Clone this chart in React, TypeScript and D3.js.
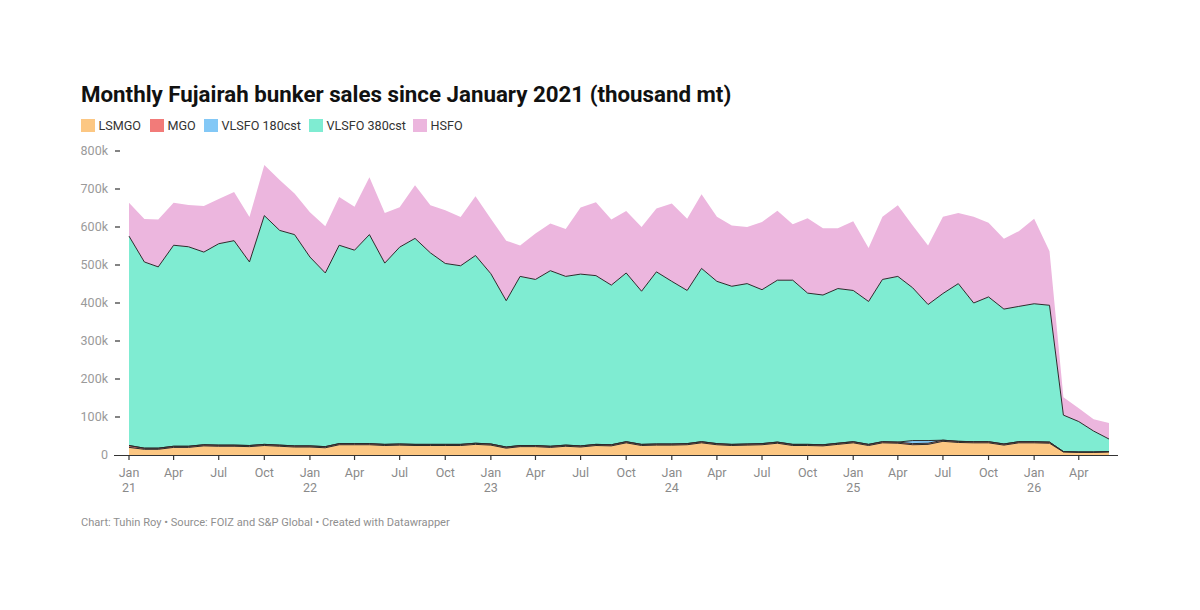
import { useEffect, useRef } from "react";
import * as d3 from "d3";

// Monthly values, thousand mt, Jan 2021 .. Jun 2026
const startMonth = new Date(2021, 0, 1);
const seriesKeys = ["LSMGO", "MGO", "VLSFO 180cst", "VLSFO 380cst", "HSFO"];
const seriesColors = ["#fcc783", "#f27b79", "#83c8f6", "#7fecd2", "#ecb6de"];

const lsmgo = [
  20, 15, 15, 20, 20, 24, 23, 23, 22, 25, 23, 21,
  21, 19, 27, 27, 27, 25, 26, 25, 25, 25, 25, 28,
  26, 18, 22, 22, 20, 23, 21, 25, 24, 32, 25, 26,
  26, 27, 32, 27, 25, 26, 27, 31, 25, 25, 24, 28,
  32, 25, 32, 31, 27, 28, 36, 33, 32, 32, 26, 32,
  32, 31, 8, 7, 7, 8,
];
const mgo = [
  5, 3, 3, 3, 3, 3, 3, 3, 3, 3, 3, 3,
  3, 3, 3, 3, 3, 3, 3, 3, 3, 3, 3, 3,
  3, 3, 3, 3, 3, 3, 3, 3, 3, 3, 3, 3,
  3, 3, 3, 3, 3, 3, 3, 3, 3, 3, 3, 3,
  3, 3, 3, 3, 3, 3, 3, 3, 3, 3, 3, 3,
  3, 3, 1, 1, 1, 1,
];
const vlsfo180 = [
  0, 0, 0, 0, 0, 0, 0, 0, 0, 0, 0, 0,
  0, 0, 0, 0, 0, 0, 0, 0, 0, 0, 0, 0,
  0, 0, 0, 0, 0, 0, 0, 0, 0, 0, 0, 0,
  0, 0, 0, 0, 0, 0, 0, 0, 0, 0, 0, 0,
  0, 0, 0, 0, 8, 7, 0, 0, 0, 0, 0, 0,
  0, 0, 0, 0, 0, 0,
];
const vlsfo380 = [
  551, 490, 477, 529, 525, 507, 530, 538, 483, 602, 565, 556,
  497, 457, 522, 509, 550, 477, 518, 542, 504, 476, 470, 494,
  448, 385, 445, 437, 462, 444, 452, 444, 420, 444, 403, 453,
  428, 403, 456, 427, 416, 422, 405, 426, 432, 398, 394, 407,
  398, 376, 427, 436, 402, 358, 386, 415, 365, 381, 355, 356,
  363, 360, 96, 80, 55, 33,
];
const hsfo = [
  88, 113, 125, 112, 110, 121, 118, 128, 118, 133, 133, 108,
  118, 123, 127, 114, 151, 132, 105, 140, 125, 140, 128, 156,
  145, 158, 81, 121, 124, 125, 175, 193, 173, 163, 169, 167,
  205, 189, 195, 170, 160, 149, 178, 183, 147, 197, 176, 159,
  182, 141, 165, 187, 164, 155, 202, 186, 227, 195, 185, 198,
  224, 142, 47, 35, 31, 42,
];

const yTicks = [0, 100, 200, 300, 400, 500, 600, 700, 800];
const monthNames = ["Jan", "Feb", "Mar", "Apr", "May", "Jun", "Jul", "Aug", "Sep", "Oct", "Nov", "Dec"];

const FONT = "Roboto, 'Noto Sans', sans-serif";

export default function App() {
  const svgRef = useRef<SVGSVGElement>(null);

  useEffect(() => {
    if (!svgRef.current) return;
    const svg = d3.select(svgRef.current);
    svg.selectAll("*").remove();

    const columns = [lsmgo, mgo, vlsfo180, vlsfo380, hsfo];
    const rows = lsmgo.map((_, i) => {
      const row: Record<string, any> = { date: d3.timeMonth.offset(startMonth, i) };
      seriesKeys.forEach((k, j) => (row[k] = columns[j][i]));
      return row;
    });
    const lastDate = rows[rows.length - 1].date as Date;

    const x = d3.scaleTime().domain([startMonth, lastDate]).range([129, 1109]);
    const y = d3.scaleLinear().domain([0, 800]).range([455, 151]);

    const stacked = d3.stack<Record<string, any>>().keys(seriesKeys)(rows);

    const area = d3
      .area<d3.SeriesPoint<Record<string, any>>>()
      .x((d) => x(d.data.date))
      .y0((d) => y(d[0]))
      .y1((d) => y(d[1]));
    const topLine = d3
      .line<d3.SeriesPoint<Record<string, any>>>()
      .x((d) => x(d.data.date))
      .y((d) => y(d[1]));

    // Title
    svg.append("text")
      .attr("x", 81)
      .attr("y", 102)
      .style("font-family", FONT)
      .style("font-size", "22.3px")
      .style("font-weight", "700")
      .attr("fill", "#111")
      .text("Monthly Fujairah bunker sales since January 2021 (thousand mt)");

    // Legend
    const legendX = [81, 150, 204, 309, 413];
    seriesKeys.forEach((k, i) => {
      const g = svg.append("g").attr("transform", `translate(${legendX[i]},119)`);
      g.append("rect").attr("width", 14).attr("height", 13).attr("fill", seriesColors[i]);
      g.append("text")
        .attr("x", 17.5)
        .attr("y", 11)
        .style("font-family", FONT)
        .style("font-size", "12.6px")
        .attr("fill", "#333")
        .text(k);
    });

    // Areas
    const plot = svg.append("g");
    stacked.forEach((s, i) => {
      plot.append("path").attr("d", area(s) as string).attr("fill", seriesColors[i]);
    });
    stacked.forEach((s, i) => {
      if (i === stacked.length - 1) return;
      plot.append("path")
        .attr("d", topLine(s) as string)
        .attr("fill", "none")
        .attr("stroke", "#2b2b2b")
        .attr("stroke-width", 1)
        .attr("stroke-linejoin", "round");
    });

    // Y axis labels and ticks
    yTicks.forEach((t) => {
      svg.append("text")
        .attr("x", 108)
        .attr("y", y(t))
        .attr("dy", "0.35em")
        .attr("text-anchor", "end")
        .style("font-family", FONT)
        .style("font-size", "12.5px")
        .attr("fill", "#9a9a9a")
        .text(t === 0 ? "0" : `${t}k`);
      if (t > 0) {
        svg.append("line")
          .attr("x1", 115).attr("x2", 120)
          .attr("y1", y(t)).attr("y2", y(t))
          .attr("stroke", "#333").attr("stroke-width", 1.2);
      }
    });

    // X axis
    svg.append("line")
      .attr("x1", 114).attr("x2", 1118)
      .attr("y1", 455.5).attr("y2", 455.5)
      .attr("stroke", "#333").attr("stroke-width", 1.2);

    const xTicks = d3.timeMonth.every(3)!.range(startMonth, d3.timeMonth.offset(lastDate, 1));
    xTicks.forEach((d) => {
      const px = x(d);
      svg.append("line")
        .attr("x1", px).attr("x2", px)
        .attr("y1", 455).attr("y2", 460)
        .attr("stroke", "#333").attr("stroke-width", 1.2);
      const t = svg.append("text")
        .attr("x", px)
        .attr("y", 477)
        .attr("text-anchor", "middle")
        .style("font-family", FONT)
        .style("font-size", "12.5px")
        .attr("fill", "#8a8a8a");
      t.append("tspan").attr("x", px).text(monthNames[d.getMonth()]);
      if (d.getMonth() === 0) {
        t.append("tspan").attr("x", px).attr("dy", 15).text(String(d.getFullYear()).slice(2));
      }
    });

    // Footer
    svg.append("text")
      .attr("x", 81)
      .attr("y", 526)
      .style("font-family", FONT)
      .style("font-size", "11.1px")
      .attr("fill", "#8f8f8f")
      .text("Chart: Tuhin Roy \u2022 Source: FOIZ and S&P Global \u2022 Created with Datawrapper");
  }, []);

  return (
    <svg
      ref={svgRef}
      width={1200}
      height={610}
      viewBox="0 0 1200 610"
      style={{ position: "absolute", left: 0, top: 0, background: "#fff", display: "block" }}
    />
  );
}
